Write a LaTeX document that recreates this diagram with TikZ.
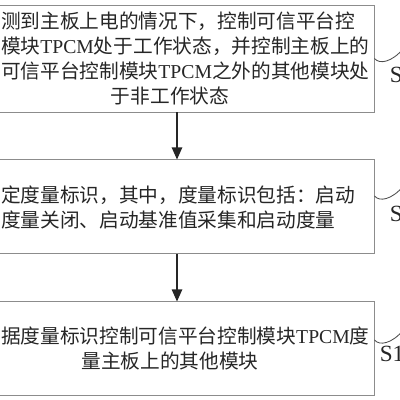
\documentclass[tikz,border=0pt]{standalone}
\usepackage{fontspec}
\setmainfont{Noto Sans CJK SC}
\newfontfamily\latinfont{Liberation Serif}
\usetikzlibrary{arrows.meta,positioning}
\newcommand{\tpcm}{{\latinfont TPCM}}
\tikzset{
    stepbox/.style={draw=black!45, line width=0.7pt, align=left, text=black!85,
        font=\fontsize{14pt}{17.8pt}\selectfont, text width=8.45cm,
        minimum width=10.2cm, minimum height=2.35cm, inner sep=0.1cm},
    steparrow/.style={-{Triangle[length=3mm,width=2.6mm]}, line width=0.9pt, black!85},
    leadline/.style={line width=0.6pt, black!70},
    steplabel/.style={anchor=west, inner sep=0pt, text=black!85,
        font=\latinfont\fontsize{16.5pt}{20pt}\selectfont}
}
\begin{document}
\begin{tikzpicture}[node distance=1.175cm]
\useasboundingbox (0,0) rectangle (10,-10);
\node[stepbox, minimum height=2.675cm] (detect) at (4.25,-1.4625)
    {测到主板上电的情况下，控制可信平台控\\
     模块\tpcm 处于工作状态，并控制主板上的\\
     可信平台控制模块\tpcm 之外的其他模块处\\
     \makebox[\linewidth]{于非工作状态}};
\node[stepbox, below=of detect] (setflag)
    {定度量标识，其中，度量标识包括：启动\\
     度量关闭、启动基准值采集和启动度量};
\node[stepbox, below=of setflag] (measure)
    {据度量标识控制可信平台控制模块\tpcm 度\\
     \makebox[\linewidth]{量主板上的其他模块}};
\draw[steparrow] ([xshift=0.175cm]detect.south) -- ([xshift=0.175cm]setflag.north);
\draw[steparrow] ([xshift=0.175cm]setflag.south) -- ([xshift=0.175cm]measure.north);
% step labels
\coordinate (tip1) at ([shift={(0.725,0.25)}]detect.east);
\coordinate (tip2) at ([shift={(0.725,0.525)}]setflag.east);
\coordinate (tip3) at ([shift={(0.725,0.475)}]measure.east);
\draw[leadline] (detect.east) .. controls +(0.125,-0.15) and +(-0.3,-0.35) .. (tip1);
\draw[leadline] ([yshift=0.275cm]setflag.east) .. controls +(0.125,-0.15) and +(-0.3,-0.35) .. (tip2);
\draw[leadline] ([yshift=0.225cm]measure.east) .. controls +(0.125,-0.15) and +(-0.3,-0.35) .. (tip3);
\node[steplabel] (s1) at ([shift={(0.375,-0.4125)}]detect.east) {S};
\node[steplabel] (s2) at ([shift={(0.375,-0.175)}]setflag.east) {S};
\node[steplabel] (s3) at ([shift={(0.125,-0.125)}]measure.east) {S1};
\end{tikzpicture}
\end{document}
